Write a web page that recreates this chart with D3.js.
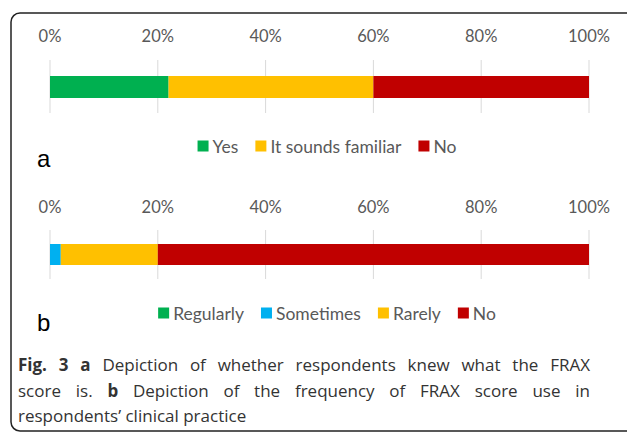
<!DOCTYPE html>
<html>
<head>
<meta charset="utf-8">
<script src="https://cdn.jsdelivr.net/npm/d3@7"></script>
<style>
  body { margin: 0; background: #fff; }
  svg { display: block; }
</style>
</head>
<body>
<svg id="chart" width="627" height="432"></svg>
<script>
/* chart values */
var ticks = [0, 0.2, 0.4, 0.6, 0.8, 1];

var knewCats = ["Yes", "It sounds familiar", "No"];
var knewVals = [0.22, 0.38, 0.40];
var knewCols = ["#00b050", "#ffc000", "#c00000"];

var useCats = ["Regularly", "Sometimes", "Rarely", "No"];
var useVals = [0, 0.02, 0.18, 0.80];
var useCols = ["#00b050", "#00b0f0", "#ffc000", "#c00000"];

var svg = d3.select("#chart");
var font = "Lato, 'Open Sans', sans-serif";

// frame round the figure (right edge is cut off in the original)
svg.append("rect")
  .attr("x", 11).attr("y", 13)
  .attr("width", 700).attr("height", 418)
  .attr("rx", 9)
  .attr("fill", "none")
  .attr("stroke", "#222")
  .attr("stroke-width", 1.5);

var x = d3.scaleLinear().domain([0, 1]).range([50, 589]);

function drawPanel(cats, vals, cols, opt) {
  var g = svg.append("g");

  // tick labels on top
  g.selectAll("text.tick")
    .data(ticks)
    .enter().append("text")
    .attr("x", function(d) { return x(d); })
    .attr("y", opt.tickY)
    .attr("text-anchor", "middle")
    .attr("dominant-baseline", "central")
    .style("font-family", font)
    .style("font-size", "16.5px")
    .attr("fill", "#595959")
    .text(d3.format(".0%"));

  g.selectAll("line.grid")
    .data(ticks)
    .enter().append("line")
    .attr("x1", function(d) { return x(d); })
    .attr("x2", function(d) { return x(d); })
    .attr("y1", opt.gridTop)
    .attr("y2", opt.gridBottom)
    .attr("stroke", "#d9d9d9")
    .attr("stroke-width", 1);

  // stacked bar
  var row = {};
  cats.forEach(function(c, i) { row[c] = vals[i]; });
  var stack = d3.stack().keys(cats)([row]);

  g.selectAll("rect.seg")
    .data(stack)
    .enter().append("rect")
    .attr("x", function(s) { return x(s[0][0]); })
    .attr("width", function(s) { return x(s[0][1]) - x(s[0][0]); })
    .attr("y", opt.barTop)
    .attr("height", opt.barH)
    .attr("fill", function(s, i) { return cols[i]; });

  // legend, centred
  var lg = g.append("g");
  var offset = 0;
  cats.forEach(function(c, i) {
    var item = lg.append("g").attr("transform", "translate(" + offset + ",0)");
    item.append("rect")
      .attr("x", 0).attr("y", opt.legY - 5.5)
      .attr("width", 11).attr("height", 11)
      .attr("fill", cols[i]);
    var t = item.append("text")
      .attr("x", 15).attr("y", opt.legY)
      .attr("dominant-baseline", "central")
      .style("font-family", font)
      .style("font-size", "17.5px")
      .attr("fill", "#595959")
      .text(c);
    offset += 15 + t.node().getComputedTextLength() + 17;
  });
  var legW = offset - 17;
  lg.attr("transform", "translate(" + (327 - legW / 2) + ",0)");

  // panel letter
  g.append("text")
    .attr("x", 37).attr("y", opt.letterY)
    .attr("dominant-baseline", "central")
    .style("font-family", "'Liberation Sans', Arial, sans-serif")
    .style("font-size", "24px")
    .attr("fill", "#000")
    .text(opt.letter);
}

drawPanel(knewCats, knewVals, knewCols,
  { tickY: 36, gridTop: 60, gridBottom: 113, barTop: 76, barH: 22, legY: 146, letterY: 158, letter: "a" });
drawPanel(useCats, useVals, useCols,
  { tickY: 207, gridTop: 230, gridBottom: 279, barTop: 244, barH: 21, legY: 313, letterY: 322, letter: "b" });

// caption, first two lines justified
var capFont = "'Open Sans', sans-serif";
var capLines = [
  [["Fig. 3 ", true], ["a", true], [" Depiction of whether respondents knew what the FRAX", false]],
  [["score is. ", false], ["b", true], [" Depiction of the frequency of FRAX score use in", false]],
  [["respondents\u2019 clinical practice", false]]
];
var capY = [364, 390, 415];
capLines.forEach(function(parts, li) {
  var t = svg.append("text")
    .attr("x", 18).attr("y", capY[li])
    .attr("dominant-baseline", "central")
    .style("font-family", capFont)
    .style("font-size", "17px")
    .attr("fill", "#333");
  parts.forEach(function(p) {
    t.append("tspan")
      .style("font-weight", p[1] ? "bold" : "normal")
      .text(p[0]);
  });
  if (li < 2) {
    var full = parts.map(function(p) { return p[0]; }).join("");
    var gaps = full.split(" ").length - 1;
    var w = t.node().getComputedTextLength();
    var extra = (590 - 18 - w) / gaps;
    t.attr("word-spacing", extra);
  }
});
</script>
</body>
</html>
